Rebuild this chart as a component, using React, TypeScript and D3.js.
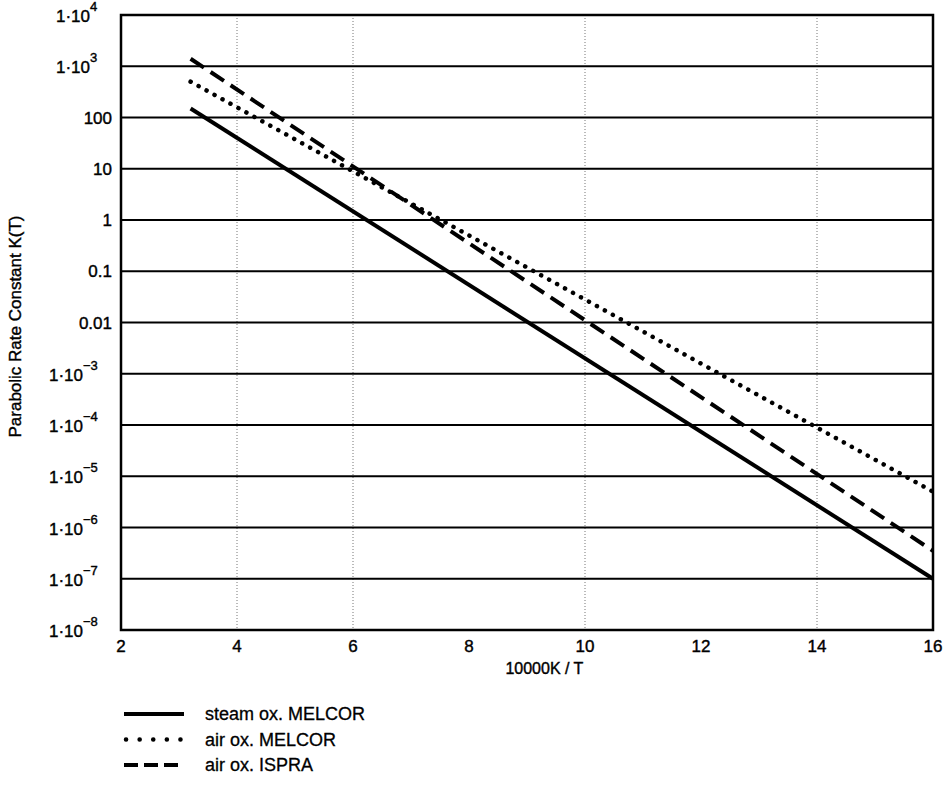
import React from "react";
import * as d3 from "d3";

// decades shown on the y axis (log10 values)
const yDecades = [4, 3, 2, 1, 0, -1, -2, -3, -4, -5, -6, -7, -8];
const yPlain: Record<number, string> = { 2: "100", 1: "10", 0: "1", [-1]: "0.1", [-2]: "0.01" };
const xTicks = [2, 4, 6, 8, 10, 12, 14, 16];
// only these vertical dotted grid lines are visible in the scan
const xGrid = [4, 6, 10, 14];

// each series is a straight line on the log plot: start and end points
const seriesNames = ["steam ox. MELCOR", "air ox. MELCOR", "air ox. ISPRA"];
const seriesX = [
  [3.2, 16],
  [3.2, 16],
  [3.2, 16],
];
const seriesY = [
  [150, 1.0e-7],
  [500, 5.0e-6],
  [1400, 3.5e-7],
];

const W = 950;
const H = 789;
const margin = { left: 121, right: 17, top: 15, bottom: 159 };

export default function App() {
  const innerW = W - margin.left - margin.right;
  const innerH = H - margin.top - margin.bottom;

  const x = d3.scaleLinear().domain([2, 16]).range([0, innerW]);
  const y = d3.scaleLog().domain([1e-8, 1e4]).range([innerH, 0]);

  const line = d3
    .line<[number, number]>()
    .x((d) => x(d[0]))
    .y((d) => y(d[1]));

  const styles = [
    { dash: "none", width: 4, cap: "butt" },
    { dash: "0.1 9", width: 4.5, cap: "round" },
    { dash: "16 8", width: 4, cap: "butt" },
  ];

  const font = "'Liberation Sans', Arial, sans-serif";
  // the scan makes the text look heavier than plain regular weight
  const ink = { fill: "#000", stroke: "#000", strokeWidth: 0.4 };

  return (
    <svg width={W} height={H} style={{ position: "absolute", left: 0, top: 0, background: "#fff" }}>
      <g transform={`translate(${margin.left},${margin.top})`} fontFamily={font}>
        {/* vertical dotted grid */}
        {xGrid.map((v) => (
          <line
            key={"gx" + v}
            x1={x(v)}
            x2={x(v)}
            y1={0}
            y2={innerH}
            stroke="#777"
            strokeWidth={1}
            strokeDasharray="1 2"
          />
        ))}
        {/* horizontal grid */}
        {yDecades.map((d) => (
          <line
            key={"gy" + d}
            x1={0}
            x2={innerW}
            y1={y(Math.pow(10, d))}
            y2={y(Math.pow(10, d))}
            stroke="#000"
            strokeWidth={1.8}
          />
        ))}
        {/* frame */}
        <rect x={0} y={0} width={innerW} height={innerH} fill="none" stroke="#000" strokeWidth={2.5} />

        {/* series */}
        {seriesNames.map((n, i) => (
          <path
            key={n}
            d={line(seriesX[i].map((v, j) => [v, seriesY[i][j]] as [number, number])) || ""}
            fill="none"
            stroke="#000"
            strokeWidth={styles[i].width}
            strokeDasharray={styles[i].dash}
            strokeLinecap={styles[i].cap as any}
          />
        ))}

        {/* y labels */}
        {yDecades.map((d) => {
          const yy = y(Math.pow(10, d));
          if (yPlain[d] !== undefined) {
            return (
              <text key={"yl" + d} x={-9} y={yy + 6} textAnchor="end" fontSize={17} {...ink}>
                {yPlain[d]}
              </text>
            );
          }
          const ex = d < 0 ? -38 : -31;
          return (
            <g key={"yl" + d}>
              <text x={ex} y={yy + 7} textAnchor="end" fontSize={17} {...ink}>
                1·10
              </text>
              <text x={ex} y={yy - 4} fontSize={13} {...ink}>
                {d < 0 ? "\u2212" + Math.abs(d) : String(d)}
              </text>
            </g>
          );
        })}

        {/* x labels */}
        {xTicks.map((v) => (
          <text key={"xl" + v} x={x(v)} y={innerH + 22} textAnchor="middle" fontSize={17} {...ink}>
            {v}
          </text>
        ))}
        <text x={x(9.3)} y={innerH + 44} textAnchor="middle" fontSize={16} {...ink}>
          10000K / T
        </text>
        <text
          transform={`translate(${-100},${innerH / 2 + 4}) rotate(-90)`}
          textAnchor="middle"
          fontSize={17}
          {...ink}
        >
          Parabolic Rate Constant K(T)
        </text>
      </g>

      {/* legend */}
      <g fontFamily={font}>
        {seriesNames.map((n, i) => (
          <g key={"lg" + n} transform={`translate(124,${714 + i * 25.5})`}>
            <line
              x1={styles[i].cap === "round" ? 2 : 0}
              x2={styles[i].cap === "round" ? 58 : 60}
              y1={0}
              y2={0}
              stroke="#000"
              strokeWidth={styles[i].width}
              strokeDasharray={i === 1 ? "0.1 13.5" : i === 2 ? "14 6" : "none"}
              strokeLinecap={styles[i].cap as any}
            />
            <text x={81} y={6} fontSize={18} {...ink} strokeWidth={0.3}>
              {n}
            </text>
          </g>
        ))}
      </g>
    </svg>
  );
}
